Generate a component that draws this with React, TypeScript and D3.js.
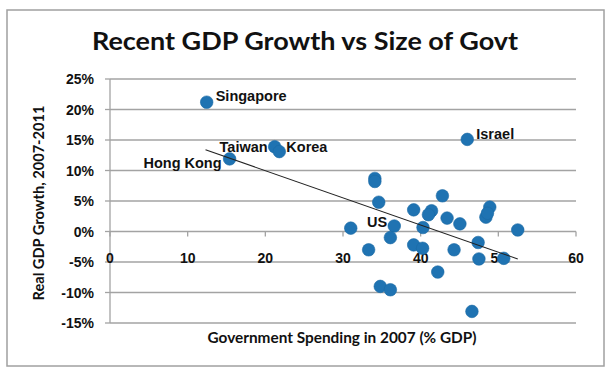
import React from 'react';
import * as d3 from 'd3';

// government spending 2007 (% GDP) vs real GDP growth 2007-2011 (%)
const countries = ['Singapore', 'Hong Kong', 'Taiwan', 'Korea', 'Israel', 'US'];
const spending = [12.45, 15.4, 21.2, 21.8, 46.0, 36.6,
  34.1, 34.1, 34.6, 31.0, 36.1, 33.3, 39.1, 41.4, 41.0, 40.3, 42.8, 43.4, 45.05,
  39.1, 40.25, 44.3, 42.2, 47.4, 47.5, 50.7, 48.9, 48.4, 48.6, 52.5, 34.8, 36.1, 46.6];
const growth = [21.2, 11.9, 13.9, 13.1, 15.1, 0.9,
  8.7, 8.2, 4.8, 0.55, -1.0, -3.0, 3.55, 3.4, 2.75, 0.65, 5.85, 2.2, 1.25,
  -2.2, -2.75, -3.0, -6.65, -1.8, -4.5, -4.4, 4.0, 2.35, 3.0, 0.25, -9.0, -9.55, -13.1];

const trendX = [12.3, 52.5];
const trendY = [13.4, -4.5];

const xTicks = [0, 10, 20, 30, 40, 50, 60];
const yTicks = [25, 20, 15, 10, 5, 0, -5, -10, -15];

// label placement around each labelled point
const labelPos: Record<string, { dx: number; dy: number; anchor: string }> = {
  Singapore: { dx: 9, dy: -6, anchor: 'start' },
  'Hong Kong': { dx: -8, dy: 4, anchor: 'end' },
  Taiwan: { dx: -7, dy: 0.5, anchor: 'end' },
  Korea: { dx: 7, dy: -5, anchor: 'start' },
  Israel: { dx: 9, dy: -6, anchor: 'start' },
  US: { dx: -7, dy: -4, anchor: 'end' },
};

const App = () => {
  const x = d3.scaleLinear().domain([0, 60]).range([110, 576]);
  const y = d3.scaleLinear().domain([-15, 25]).range([323, 79]);
  const grid = '#a3a3a3';
  const points = spending.map((s, i) => ({ s, g: growth[i] }));
  const trend = d3.line<number>().x((d) => x(d)).y((_, i) => y(trendY[i]));

  return (
    <svg width={611} height={373} style={{ position: 'absolute', left: 0, top: 0, background: '#fff' }}>
      <rect x={7} y={10} width={597} height={356} fill="#fff" stroke="#a0a0a0" strokeWidth={1.5} />
      <text x={305} y={50} textAnchor="middle" fontFamily="Lato, sans-serif" fontWeight={700}
        fontSize={25} textLength={426} lengthAdjust="spacingAndGlyphs" fill="#111">
        Recent GDP Growth vs Size of Govt
      </text>

      {yTicks.map((t) => (
        <g key={t}>
          <line x1={x(0)} x2={x(60)} y1={y(t)} y2={y(t)} stroke={grid} strokeWidth={1.3} />
          <line x1={x(0) - 5} x2={x(0)} y1={y(t)} y2={y(t)} stroke={grid} strokeWidth={1.3} />
          <text x={94} y={y(t)} dy="0.36em" textAnchor="end" fontFamily="'Liberation Sans', Arial, sans-serif"
            fontWeight={700} fontSize={14} fill="#111">{t}%</text>
        </g>
      ))}
      <line x1={x(0)} x2={x(0)} y1={y(25)} y2={y(-15)} stroke={grid} strokeWidth={1.3} />
      {xTicks.map((t) => (
        <g key={t}>
          <line x1={x(t)} x2={x(t)} y1={y(0)} y2={y(0) + 5} stroke={grid} strokeWidth={1.3} />
          <text x={x(t)} y={258} dy="0.36em" textAnchor="middle" fontFamily="'Liberation Sans', Arial, sans-serif"
            fontWeight={700} fontSize={14} fill="#111">{t}</text>
        </g>
      ))}

      {points.map((p, i) => (
        <circle key={i} cx={x(p.s)} cy={y(p.g)} r={6.3} fill="#1f73b2" stroke="#1b6aa5" strokeWidth={0.6} />
      ))}

      <path d={trend(trendX) || ''} fill="none" stroke="#222" strokeWidth={1.1} />

      {countries.map((c, i) => {
        const lp = labelPos[c];
        return (
          <text key={c} x={x(spending[i]) + lp.dx} y={y(growth[i]) + lp.dy} dy="0.36em" textAnchor={lp.anchor}
            fontFamily="'Liberation Sans', Arial, sans-serif" fontWeight={700} fontSize={14.5} fill="#111">
            {c}
          </text>
        );
      })}

      <text x={342} y={337.7} dy="0.36em" textAnchor="middle" fontFamily="Lato, sans-serif" fontWeight={700}
        fontSize={15} textLength={269} lengthAdjust="spacingAndGlyphs" fill="#111">
        Government Spending in 2007 (% GDP)
      </text>
      <text transform="translate(38.5,203) rotate(-90)" dy="0.36em" textAnchor="middle" fontFamily="Lato, sans-serif"
        fontWeight={700} fontSize={15} textLength={195} lengthAdjust="spacingAndGlyphs" fill="#111">
        Real GDP Growth, 2007-2011
      </text>
    </svg>
  );
};

export default App;
